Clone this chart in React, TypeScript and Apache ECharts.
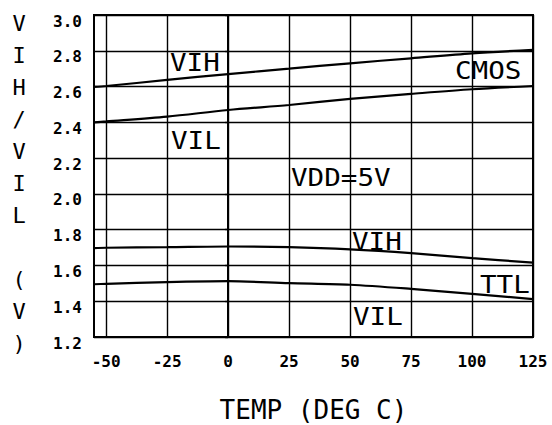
import { useEffect, useRef } from "react";
import * as echarts from "echarts";

// Data
const temps = [-55, -50, -25, 0, 25, 50, 75, 100, 125];
const cmosVih = [2.598, 2.603, 2.637, 2.67, 2.7, 2.73, 2.758, 2.786, 2.805];
const cmosVil = [2.4, 2.405, 2.432, 2.469, 2.497, 2.531, 2.559, 2.585, 2.603];
const ttlVih = [1.697, 1.699, 1.702, 1.706, 1.702, 1.69, 1.669, 1.641, 1.616];
const ttlVil = [1.495, 1.497, 1.507, 1.512, 1.501, 1.492, 1.469, 1.441, 1.412];
const xTicks = [-50, -25, 0, 25, 50, 75, 100, 125];
const yMin = 1.2;
const yMax = 3.0;
const yStep = 0.2;
const xTitle = "TEMP (DEG C)";
const yTitle = ["V", "I", "H", "/", "V", "I", "L", "", "(", "V", ")"];
const noteTexts = ["VIH", "CMOS", "VIL", "VDD=5V", "VIH", "TTL", "VIL"];

const MONO = '"DejaVu Sans Mono", monospace';

export default function App() {
  const ref = useRef<HTMLDivElement>(null);
  useEffect(() => {
    if (!ref.current) return;
    const chart = echarts.init(ref.current, undefined, { renderer: "svg" });
    const mk = (vals: number[]) => temps.map((t, i) => [t, vals[i]]);
    const line = (name: string, vals: number[]) => ({
      name,
      type: "line",
      data: mk(vals),
      symbol: "none",
      smooth: 0.3,
      lineStyle: { color: "#000", width: 2.2 },
      z: 5,
    });
    const notePos = [
      [170, 63],
      [455, 71],
      [171, 141],
      [291, 178],
      [352, 242],
      [480, 285],
      [353, 317],
    ];
    const notes = noteTexts.map((t, i) => ({
      type: "text",
      x: notePos[i][0],
      y: notePos[i][1],
      scaleX: 1.15,
      z: 10,
      style: {
        text: t,
        fill: "#000",
        font: `24px ${MONO}`,
        align: "left",
        verticalAlign: "middle",
      },
    }));
    const yName = {
      type: "text",
      x: 19,
      y: 7,
      z: 10,
      style: {
        text: yTitle.join("\n"),
        fill: "#000",
        font: `22px ${MONO}`,
        lineHeight: 32,
        align: "center",
        verticalAlign: "top",
      },
    };
    chart.setOption({
      animation: false,
      backgroundColor: "#fff",
      grid: {
        left: 94,
        right: 19,
        top: 15,
        bottom: 88,
        show: true,
        borderColor: "#000",
        borderWidth: 2,
        outerBoundsMode: "none",
        containLabel: false,
      },
      xAxis: {
        type: "value",
        min: -55,
        max: 125,
        name: xTitle,
        nameLocation: "middle",
        nameGap: 62,
        nameTextStyle: { fontFamily: MONO, fontSize: 26, lineHeight: 22, color: "#000" },
        axisLine: { show: true, lineStyle: { color: "#000", width: 2 } },
        axisTick: { show: false, customValues: xTicks },
        axisLabel: {
          customValues: xTicks,
          margin: 16,
          color: "#000",
          fontFamily: MONO,
          fontWeight: "bold",
          fontSize: 16,
          formatter: (v: number) => String(v),
        },
        splitLine: { show: true, lineStyle: { color: "#000", width: 1.4 } },
      },
      yAxis: {
        type: "value",
        min: yMin,
        max: yMax,
        interval: yStep,
        axisLine: { show: true, lineStyle: { color: "#000", width: 2 } },
        axisTick: { show: true, length: 3, lineStyle: { color: "#000", width: 1.4 } },
        axisLabel: {
          margin: 12,
          color: "#000",
          fontFamily: MONO,
          fontWeight: "bold",
          fontSize: 16,
          verticalAlign: "top",
          lineHeight: 12,
          formatter: (v: number) => v.toFixed(1),
        },
        splitLine: { show: true, lineStyle: { color: "#000", width: 1.4 } },
      },
      graphic: [yName, ...notes],
      series: [
        line("CMOS VIH", cmosVih),
        line("CMOS VIL", cmosVil),
        line("TTL VIH", ttlVih),
        line("TTL VIL", ttlVil),
      ],
    });
    return () => chart.dispose();
  }, []);
  return (
    <div
      ref={ref}
      style={{ position: "fixed", left: 0, top: 0, width: 552, height: 425, background: "#fff" }}
    />
  );
}
